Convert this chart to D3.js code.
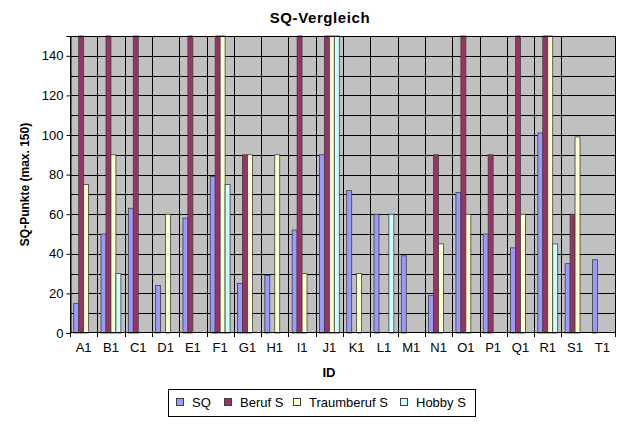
<!DOCTYPE html>
<html>
<head>
<meta charset="utf-8">
<script src="https://cdn.jsdelivr.net/npm/d3@7"></script>
<style>
  body { margin: 0; background: #fff; }
  text { font-family: "Liberation Sans", Arial, sans-serif; fill: #000; }
</style>
</head>
<body>
<div class="chart"></div>
<script>
var categories = ["A1","B1","C1","D1","E1","F1","G1","H1","I1","J1","K1","L1","M1","N1","O1","P1","Q1","R1","S1","T1"];
var seriesNames = ["SQ", "Beruf S", "Traumberuf S", "Hobby S"];
var sq         = [15, 50, 63, 24, 58, 79, 25, 29, 52, 90, 72, 60, 39, 19, 71, 50, 43, 101, 35, 37];
var beruf      = [150, 150, 150, 0, 150, 150, 90, 0, 150, 150, 0, 0, 0, 90, 150, 90, 150, 150, 60, 0];
var traumberuf = [75, 90, 0, 60, 0, 150, 90, 90, 30, 150, 30, 0, 0, 45, 60, 0, 60, 150, 99, 0];
var hobby      = [0, 30, 0, 0, 0, 75, 0, 0, 0, 150, 0, 60, 0, 0, 0, 0, 0, 45, 0, 0];
var yTicks = [0, 20, 40, 60, 80, 100, 120, 140];
var colors = ["#9999FF", "#993366", "#FFFFCC", "#CCFFFF"];

var svgWidth = 640;
var svgHeight = 425;
var plot = { left: 70, right: 616, top: 36, bottom: 333 };

var svg = d3.select(".chart")
  .append("svg")
  .attr("width", svgWidth)
  .attr("height", svgHeight);

var allSeries = [sq, beruf, traumberuf, hobby];
var rows = [];
categories.forEach(function(c, i) {
  allSeries.forEach(function(s, k) {
    rows.push({ cat: c, series: seriesNames[k], k: k, value: s[i] });
  });
});

var x0 = d3.scaleBand().domain(categories).range([plot.left, plot.right]);
var x1 = d3.scaleBand().domain(seriesNames).range([0, x0.bandwidth()])
  .paddingInner(0).paddingOuter(0.75);
var yScale = d3.scaleLinear().domain([0, 150]).range([plot.bottom, plot.top]);

// plot background
svg.append("rect")
  .attr("x", plot.left).attr("y", plot.top)
  .attr("width", plot.right - plot.left).attr("height", plot.bottom - plot.top)
  .attr("fill", "#C0C0C0");

// horizontal gridlines every 10
svg.append("g").selectAll("line")
  .data(d3.range(10, 150, 10))
  .enter().append("line")
  .attr("x1", plot.left).attr("x2", plot.right)
  .attr("y1", function(d) { return Math.round(yScale(d)) + 0.5; })
  .attr("y2", function(d) { return Math.round(yScale(d)) + 0.5; })
  .attr("stroke", "#000").attr("stroke-width", 1);

// vertical gridlines at category boundaries (the S1/T1 one is absent in the original)
var bounds = categories.slice(1).filter(function(c) { return c !== "T1"; });
svg.append("g").selectAll("line")
  .data(bounds)
  .enter().append("line")
  .attr("x1", function(d) { return Math.round(x0(d)) + 0.5; })
  .attr("x2", function(d) { return Math.round(x0(d)) + 0.5; })
  .attr("y1", plot.top).attr("y2", plot.bottom)
  .attr("stroke", "#000").attr("stroke-width", 1);

// bars
svg.append("g").selectAll("rect")
  .data(rows.filter(function(d) { return d.value > 0; }))
  .enter().append("rect")
  .attr("x", function(d) { return x0(d.cat) + x1(d.series); })
  .attr("y", function(d) { return yScale(d.value); })
  .attr("width", x1.bandwidth())
  .attr("height", function(d) { return plot.bottom - yScale(d.value); })
  .attr("fill", function(d) { return colors[d.k]; })
  .attr("stroke", "#404040")
  .attr("stroke-width", 0.8);

// plot border
svg.append("rect")
  .attr("x", plot.left + 0.5).attr("y", plot.top + 0.5)
  .attr("width", plot.right - plot.left - 1).attr("height", plot.bottom - plot.top - 1)
  .attr("fill", "none").attr("stroke", "#000");

// y axis
var leftAxis = d3.axisLeft(yScale).tickValues(yTicks).tickSize(4).tickPadding(3);
var yAxisG = svg.append("g")
  .attr("transform", "translate(" + (plot.left + 0.5) + ",0)")
  .call(leftAxis);
yAxisG.select(".domain").attr("stroke", "#000");
yAxisG.selectAll("text").style("font-size", "13px").style("font-family", "Liberation Sans, Arial, sans-serif");

// x axis
var bottomAxis = d3.axisBottom(x0).tickSize(0).tickPadding(10);
var xAxisG = svg.append("g")
  .attr("transform", "translate(0," + (plot.bottom - 0.5) + ")")
  .call(bottomAxis);
xAxisG.select(".domain").remove();
xAxisG.selectAll("text").style("font-size", "13px").style("font-family", "Liberation Sans, Arial, sans-serif");
svg.append("g").selectAll("line")
  .data(categories.filter(function(c) { return c !== "T1"; }).concat(["end"]))
  .enter().append("line")
  .attr("x1", function(d) { return d === "end" ? plot.right - 0.5 : Math.round(x0(d)) + 0.5; })
  .attr("x2", function(d) { return d === "end" ? plot.right - 0.5 : Math.round(x0(d)) + 0.5; })
  .attr("y1", plot.bottom).attr("y2", plot.bottom + 4)
  .attr("stroke", "#000");

// titles
svg.append("text")
  .attr("x", 320).attr("y", 23)
  .attr("text-anchor", "middle")
  .style("font-size", "15px").style("font-weight", "bold")
  .style("letter-spacing", "0.6px")
  .text("SQ-Vergleich");

svg.append("text")
  .attr("x", 329).attr("y", 377)
  .attr("text-anchor", "middle")
  .style("font-size", "13px").style("font-weight", "bold")
  .text("ID");

svg.append("text")
  .attr("transform", "translate(29," + ((plot.top + plot.bottom) / 2) + ") rotate(-90)")
  .attr("text-anchor", "middle")
  .style("font-size", "12px").style("font-weight", "bold")
  .text("SQ-Punkte (max. 150)");

// legend
var legend = svg.append("g");
legend.append("rect")
  .attr("x", 168.5).attr("y", 389.5).attr("width", 307).attr("height", 27)
  .attr("fill", "#fff").attr("stroke", "#000");
var legendX = [176, 224, 293, 400];
var items = legend.selectAll("g.item")
  .data(seriesNames)
  .enter().append("g")
  .attr("class", "item")
  .attr("transform", function(d, i) { return "translate(" + legendX[i] + ",398)"; });
items.append("rect")
  .attr("x", 0.5).attr("y", 0.5).attr("width", 7).attr("height", 7)
  .attr("fill", function(d, i) { return colors[i]; })
  .attr("stroke", "#404040");
items.append("text")
  .attr("x", 16).attr("y", 8.5)
  .style("font-size", "13px")
  .text(function(d) { return d; });
</script>
</body>
</html>
